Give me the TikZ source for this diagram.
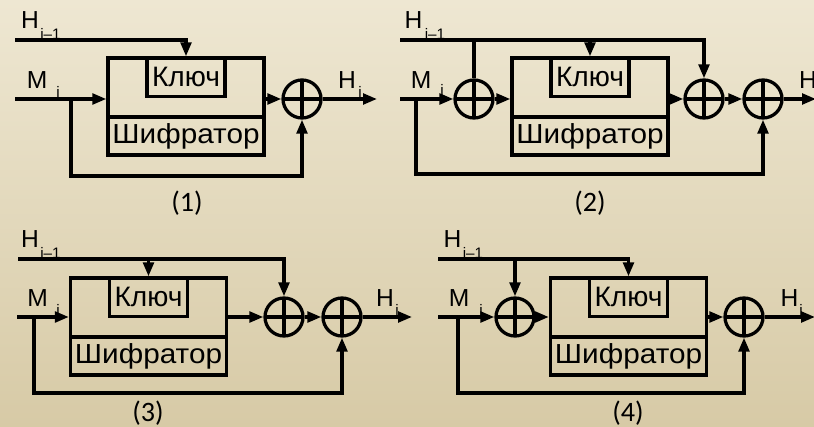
\documentclass[tikz,border=0pt]{standalone}
\usepackage{fontspec}
\setmainfont{Liberation Sans}
\newfontfamily\widefont[FakeStretch=1.08]{Liberation Sans}
\newfontfamily\capfont{Carlito}
\usetikzlibrary{arrows.meta}
\definecolor{bgtop}{HTML}{EEE7D2}
\definecolor{bgbot}{HTML}{D7CAA6}

\begin{document}
\begin{tikzpicture}[
        x=0.03cm, y=-0.03cm, line width=2.8pt,
        enc/.style={draw, minimum width=4.68cm, minimum height=2.91cm, inner sep=0pt},
        keybox/.style={draw, anchor=north, minimum width=2.34cm, minimum height=1.15cm, inner sep=0pt,
                       font=\fontsize{24}{26}\selectfont},
        shifr/.style={draw, anchor=south, minimum width=4.68cm, minimum height=1.14cm, inner sep=0pt,
                      font=\widefont\fontsize{23.5}{25}\selectfont},
        xor/.style={draw, circle, minimum size=1.14cm, inner sep=0pt,
                    path picture={\draw (path picture bounding box.north) -- (path picture bounding box.south)
                                        (path picture bounding box.west) -- (path picture bounding box.east);}},
        lbl/.style={inner sep=0pt, font=\fontsize{21}{23}\selectfont},
        idx/.style={inner sep=0pt, font=\fontsize{13}{15}\selectfont},
        num/.style={inner sep=0pt, font=\capfont\fontsize{24}{26}\selectfont},
        arr/.style={-{Triangle[length=0.42cm, width=0.32cm]}},
    ]
        % Background
        \shade[top color=bgtop, bottom color=bgbot] (0,0) rectangle (814,427);
        \useasboundingbox (0,0) rectangle (814,427);

        % Scheme (1)
        \node[enc] (box1) at (186,106.5) {};
        \node[keybox] (kl1) at (box1.north) {Ключ};
        \node[shifr] (sh1) at (box1.south) {Шифратор};
        \node[xor] (x1) at (302,99) {};
        \coordinate (h1) at (15,40);
        \coordinate (m1) at (15,99);
        \coordinate (b1) at (71,99);
        \coordinate (f1) at (71,176);
        \coordinate (o1) at (377,99);
        \node[lbl] (hl1) at (30,20.5) {H};
        \node[idx] (hs1) at (50.5,33.5) {i--1};
        \node[lbl] (ml1) at (37,80) {M};
        \node[idx] (ms1) at (58,92) {i};
        \node[lbl] (ol1) at (347,80) {H};
        \node[idx] (os1) at (360,92) {i};
        \node[num] (n1) at (187,203.5) {(1)};

        \draw[arr] (h1) -| (kl1.north);
        \draw[arr] (m1) -- (m1 -| box1.west);
        \draw[arr] (b1) -- (f1) -| (x1.south);
        \draw[arr] (box1.east |- x1) -- (x1.west);
        \draw[arr] (x1.east) -- (o1);

        % Scheme (2)
        \node[xor] (x2a) at (474,99) {};
        \node[enc] (box2) at (590,106.5) {};
        \node[keybox] (kl2) at (box2.north) {Ключ};
        \node[shifr] (sh2) at (box2.south) {Шифратор};
        \node[xor] (x2b) at (704,99) {};
        \node[xor] (x2c) at (763,99) {};
        \coordinate (h2) at (400,40);
        \coordinate (m2) at (400,99);
        \coordinate (b2) at (416,99);
        \coordinate (f2) at (416,174);
        \coordinate (o2) at (816,99);
        \node[lbl] (hl2) at (413.5,20.5) {H};
        \node[idx] (hs2) at (435,33.5) {i--1};
        \node[lbl] (ml2) at (421,80) {M};
        \node[idx] (ms2) at (442,90) {i};
        \node[lbl] (ol2) at (808,80) {H};
        \node[num] (n2) at (590,203.5) {(2)};

        \draw[arr] (h2) -| (x2b.north);
        \draw[arr] (kl2.north |- h2) -- (kl2.north);
        \draw (x2a.north |- h2) -- (x2a.north);
        \draw[arr] (m2) -- (x2a.west);
        \draw[arr] (b2) -- (f2) -| (x2c.south);
        \draw[arr] (x2a.east) -- (x2a -| box2.west);
        \draw[arr] (box2.east |- x2b) -- (x2b.west);
        \draw[arr] (x2b.east) -- (x2c.west);
        \draw[arr] (x2c.east) -- (o2);

        % Scheme (3)
        \node[enc] (box3) at (148.5,326.5) {};
        \node[keybox] (kl3) at (box3.north) {Ключ};
        \node[shifr] (sh3) at (box3.south) {Шифратор};
        \node[xor] (x3a) at (284,317) {};
        \node[xor] (x3b) at (342,317) {};
        \coordinate (h3) at (18,259);
        \coordinate (m3) at (17,317);
        \coordinate (b3) at (34,317);
        \coordinate (f3) at (34,393);
        \coordinate (o3) at (412,317);
        \node[lbl] (hl3) at (30,239.5) {H};
        \node[idx] (hs3) at (50.5,252.5) {i--1};
        \node[lbl] (ml3) at (37.5,298) {M};
        \node[idx] (ms3) at (58,310) {i};
        \node[lbl] (ol3) at (385,298) {H};
        \node[idx] (os3) at (397,310) {i};
        \node[num] (n3) at (148,413) {(3)};

        \draw[arr] (h3) -| (x3a.north);
        \draw[arr] (kl3.north |- h3) -- (kl3.north);
        \draw[arr] (m3) -- (m3 -| box3.west);
        \draw[arr] (b3) -- (f3) -| (x3b.south);
        \draw[arr] (box3.east |- x3a) -- (x3a.west);
        \draw[arr] (x3a.east) -- (x3b.west);
        \draw[arr] (x3b.east) -- (o3);

        % Scheme (4)
        \node[xor] (x4a) at (515,317) {};
        \node[enc] (box4) at (628.5,326.5) {};
        \node[keybox] (kl4) at (box4.north) {Ключ};
        \node[shifr] (sh4) at (box4.south) {Шифратор};
        \node[xor] (x4b) at (744,317) {};
        \coordinate (h4) at (438,259);
        \coordinate (m4) at (438,317);
        \coordinate (b4) at (458,317);
        \coordinate (f4) at (458,393);
        \coordinate (o4) at (815,317);
        \node[lbl] (hl4) at (452.5,239.5) {H};
        \node[idx] (hs4) at (473,252.5) {i--1};
        \node[lbl] (ml4) at (459,298) {M};
        \node[idx] (ms4) at (481,310) {i};
        \node[lbl] (ol4) at (789.5,298) {H};
        \node[idx] (os4) at (801,310) {i};
        \node[num] (n4) at (628,413) {(4)};

        \draw[arr] (h4) -| (kl4.north);
        \draw[arr] (x4a.north |- h4) -- (x4a.north);
        \draw[arr] (m4) -- (x4a.west);
        \draw[arr] (b4) -- (f4) -| (x4b.south);
        \draw[arr] (x4a.east) -- (x4a -| box4.west);
        \draw[arr] (box4.east |- x4b) -- (x4b.west);
        \draw[arr] (x4b.east) -- (o4);
    \end{tikzpicture}
\end{document}
